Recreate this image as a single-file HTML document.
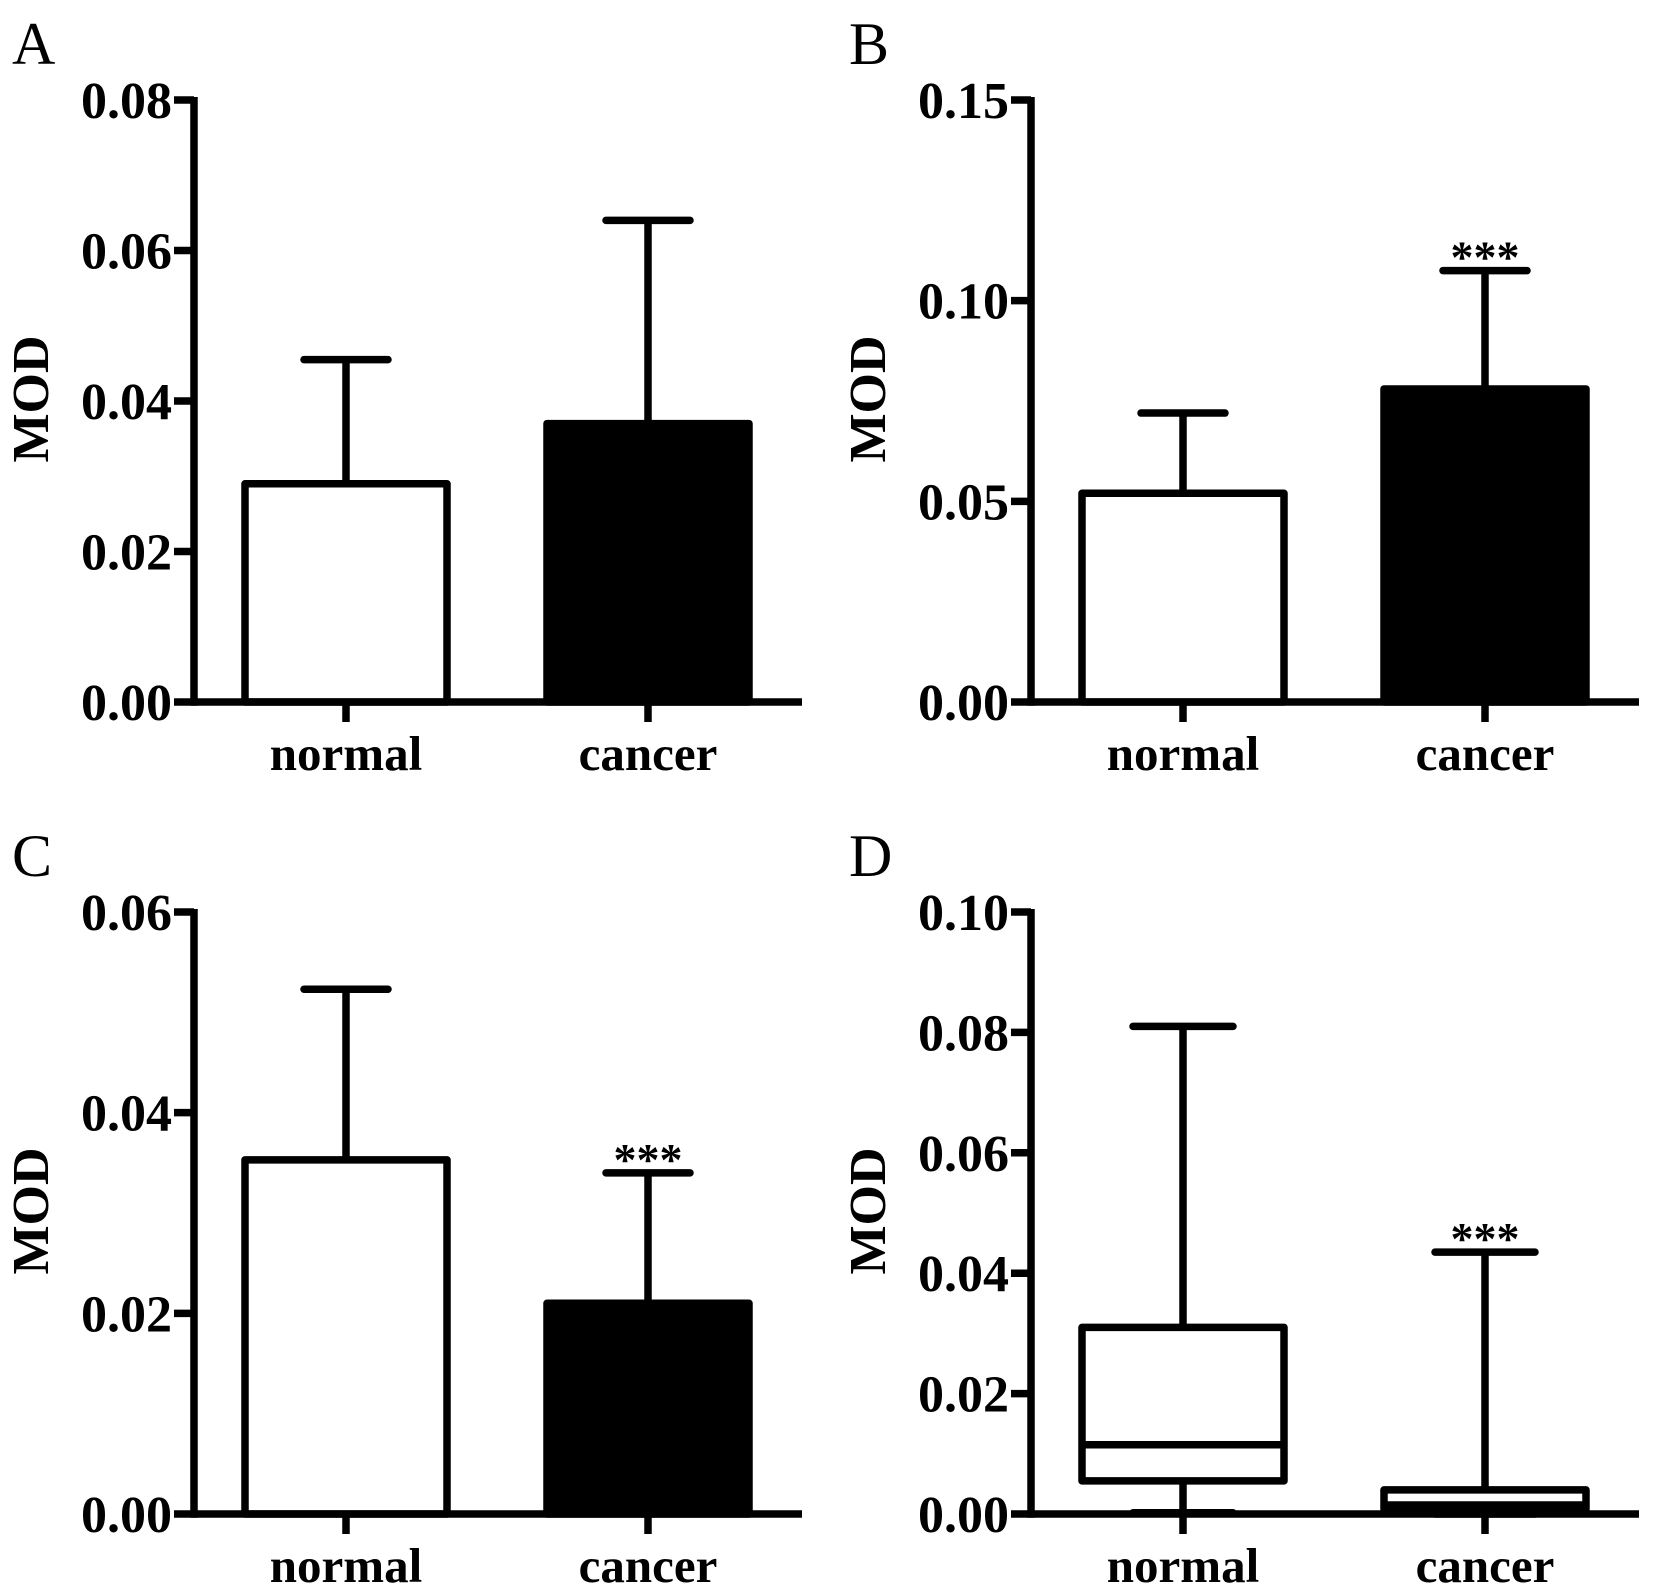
<!DOCTYPE html>
<html><head><meta charset="utf-8"><style>
html,body{margin:0;padding:0;background:#fff;}
svg{display:block;}
text{font-family:"Liberation Serif",serif;fill:#000;}
.tk{font-weight:bold;font-size:52px;}
.cat{font-weight:bold;font-size:49px;}
.lt{font-size:60px;}
</style></head><body>
<svg id="fig" width="1654" height="1592" viewBox="0 0 1654 1592"></svg>
<script>
const categories = ["normal", "cancer"];
const panelLetters = ["A", "B", "C", "D"];
const yMaxA = 0.08, ticksA = ["0.00","0.02","0.04","0.06","0.08"];
const yMaxB = 0.15, ticksB = ["0.00","0.05","0.10","0.15"];
const yMaxC = 0.06, ticksC = ["0.00","0.02","0.04","0.06"];
const yMaxD = 0.10, ticksD = ["0.00","0.02","0.04","0.06","0.08","0.10"];
const meanA = [0.029, 0.037];
const errA = [0.0455, 0.064];
const meanB = [0.052, 0.078];
const errB = [0.072, 0.1075];
const meanC = [0.0353, 0.021];
const errC = [0.0523, 0.034];
const starsB = ["", "***"];
const starsC = ["", "***"];
const starsD = ["", "***"];
const boxMin = [0.0002, 0.0];
const boxQ1 = [0.0055, 0.0008];
const boxMed = [0.0115, 0.0015];
const boxQ3 = [0.031, 0.004];
const boxMax = [0.081, 0.0435];

const svg = document.getElementById('fig');
const NS = 'http://www.w3.org/2000/svg';
function mk(tag, attrs, parent, text) {
  const e = document.createElementNS(NS, tag);
  for (const k in attrs) e.setAttribute(k, attrs[k]);
  if (text !== undefined) e.textContent = text;
  parent.appendChild(e);
  return e;
}
const SW = 7.5;
function panel(idx, ox, oy, yMax, ticks, kind, d) {
  const g = mk('g', {}, svg);
  
  
  const axX = ox + 194, base = oy + 702, top = oy + 100, xEnd = ox + 802;
  const y = v => base - (v / yMax) * (base - top);
  const cx = [ox + 346, ox + 648];
  const halfW = 101;
  const lt = mk('text', {x: ox + 12, y: oy + 64, class: 'lt'}, g, panelLetters[idx]);
  
  
  const yl = mk('text', {x: 0, y: 0, class: 'tk', 'text-anchor': 'middle', transform: `translate(${ox + 48},${oy + 399}) rotate(-90)`}, g, 'MOD');
  
  
  ticks.forEach(t => {
    const v = parseFloat(t), yy = y(v);
    const tl = mk('line', {x1: axX - 20, x2: axX, y1: yy, y2: yy, stroke: '#000', 'stroke-width': SW}, g);
    
    
    const tx = mk('text', {x: axX - 22, y: yy + 18, class: 'tk', 'text-anchor': 'end'}, g, t);
    
    
  });
  categories.forEach((c, i) => {
    if (kind === 'bar') {
      const v = d.mean[i], e = d.err[i];
      const wl = mk('line', {x1: cx[i], x2: cx[i], y1: y(v), y2: y(e), stroke: '#000', 'stroke-width': SW}, g);
      
      
      const cap = mk('line', {x1: cx[i] - 42, x2: cx[i] + 42, y1: y(e), y2: y(e), stroke: '#000', 'stroke-width': SW, 'stroke-linecap': 'round'}, g);
      
      
      const r = mk('rect', {x: cx[i] - halfW, y: y(v), width: 2 * halfW, height: base - y(v), fill: i ? '#000' : '#fff', stroke: '#000', 'stroke-width': SW, 'stroke-linejoin': 'round'}, g);
      
      
    } else {
      const wl = mk('line', {x1: cx[i], x2: cx[i], y1: y(boxMin[i]), y2: y(boxMax[i]), stroke: '#000', 'stroke-width': SW}, g);
      
      
      [boxMin[i], boxMax[i]].forEach(v => {
        const cap = mk('line', {x1: cx[i] - 50, x2: cx[i] + 50, y1: y(v), y2: y(v), stroke: '#000', 'stroke-width': SW, 'stroke-linecap': 'round'}, g);
        
        
      });
      const r = mk('rect', {x: cx[i] - halfW, y: y(boxQ3[i]), width: 2 * halfW, height: y(boxQ1[i]) - y(boxQ3[i]), fill: '#fff', stroke: '#000', 'stroke-width': SW, 'stroke-linejoin': 'round'}, g);
      
      
      const m = mk('line', {x1: cx[i] - halfW, x2: cx[i] + halfW, y1: y(boxMed[i]), y2: y(boxMed[i]), stroke: '#000', 'stroke-width': SW}, g);
      
      
    }
    if (d.stars && d.stars[i]) {
      const topV = kind === 'bar' ? d.err[i] : boxMax[i];
      const st = mk('text', {x: cx[i], y: y(topV) + 2, class: 'tk', 'text-anchor': 'middle', style: 'font-size:46px'}, g, d.stars[i]);
      
      
    }
    const ct = mk('line', {x1: cx[i], x2: cx[i], y1: base, y2: base + 20, stroke: '#000', 'stroke-width': SW}, g);
    
    
    const cl = mk('text', {x: cx[i], y: base + 68, class: 'cat', 'text-anchor': 'middle'}, g, c);
    
    
  });
  const ya = mk('line', {x1: axX, x2: axX, y1: top - 3, y2: base + SW / 2, stroke: '#000', 'stroke-width': SW}, g);
  
  
  const xa = mk('line', {x1: axX, x2: xEnd, y1: base, y2: base, stroke: '#000', 'stroke-width': SW}, g);
  
  
}
panel(0, 0, 0, yMaxA, ticksA, 'bar', {mean: meanA, err: errA});
panel(1, 837, 0, yMaxB, ticksB, 'bar', {mean: meanB, err: errB, stars: starsB});
panel(2, 0, 812, yMaxC, ticksC, 'bar', {mean: meanC, err: errC, stars: starsC});
panel(3, 837, 812, yMaxD, ticksD, 'box', {stars: starsD});
</script>
</body></html>
